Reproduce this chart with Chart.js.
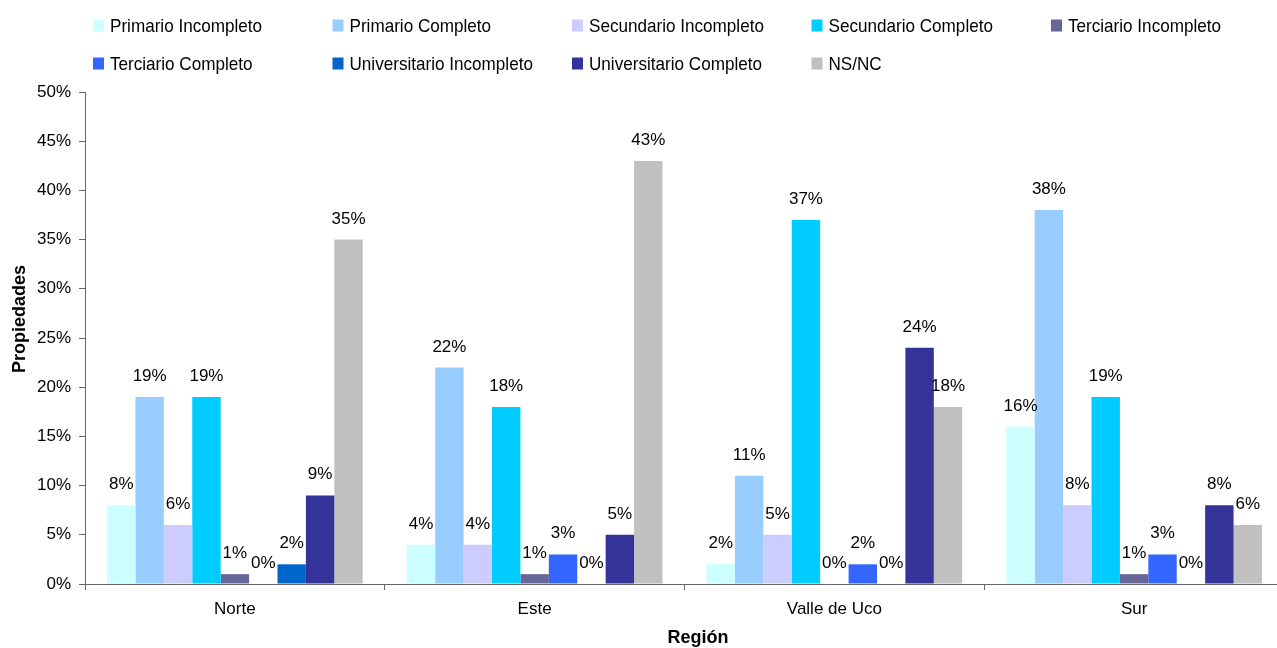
<!DOCTYPE html>
<html>
<head>
<meta charset="utf-8">
<script src="https://cdn.jsdelivr.net/npm/chart.js@4.4.1/dist/chart.umd.min.js"></script>
<style>
  html, body { margin: 0; padding: 0; background: #fff; overflow: hidden; }
  #wrap { width: 1277px; height: 648px; overflow: hidden; }
  canvas { display: block; }
</style>
</head>
<body>
<div id="wrap"><canvas id="nivelChart" width="1285" height="648"></canvas></div>
<script>
const regiones = ['Norte', 'Este', 'Valle de Uco', 'Sur'];

const niveles = [
    'Primario Incompleto', 'Primario Completo', 'Secundario Incompleto',
    'Secundario Completo', 'Terciario Incompleto', 'Terciario Completo',
    'Universitario Incompleto', 'Universitario Completo', 'NS/NC'
];

// porcentaje por region (Norte, Este, Valle de Uco, Sur)
const primarioIncompleto = [8, 4, 2, 16];
const primarioCompleto = [19, 22, 11, 38];
const secundarioIncompleto = [6, 4, 5, 8];
const secundarioCompleto = [19, 18, 37, 19];
const terciarioIncompleto = [1, 1, 0, 1];
const terciarioCompleto = [0, 3, 2, 3];
const universitarioIncompleto = [2, 0, 0, 0];
const universitarioCompleto = [9, 5, 24, 8];
const nsnc = [35, 43, 18, 6];

const colores = ['#CCFFFF', '#99CCFF', '#CCCCFF', '#00CCFF', '#666699',
                 '#3366FF', '#0066CC', '#333399', '#C0C0C0'];

const series = [primarioIncompleto, primarioCompleto, secundarioIncompleto,
    secundarioCompleto, terciarioIncompleto, terciarioCompleto,
    universitarioIncompleto, universitarioCompleto, nsnc];

const FONT = 'Arial, "Liberation Sans", sans-serif';
const AXIS = '#666666';

// leyenda en dos filas, cinco columnas iguales
const leyenda = {
    id: 'leyenda',
    afterDraw(chart) {
        const ctx = chart.ctx;
        const x0 = 93, colW = 239.5;
        const rows = [25.5, 63.5];
        ctx.save();
        ctx.textBaseline = 'middle';
        ctx.textAlign = 'left';
        chart.data.datasets.forEach((ds, i) => {
            const x = x0 + (i % 5) * colW;
            const y = rows[Math.floor(i / 5)];
            ctx.fillStyle = ds.backgroundColor;
            ctx.fillRect(x, y - 6, 11, 12);
            // texto algo angosto, como en el grafico original
            ctx.save();
            ctx.translate(x + 17, y + 1);
            ctx.scale(0.9, 1);
            ctx.font = '19px ' + FONT;
            ctx.fillStyle = '#000';
            ctx.fillText(ds.label, 0, 0);
            ctx.restore();
        });
        ctx.restore();
    }
};

// titulos de los ejes
const titulos = {
    id: 'titulos',
    afterDraw(chart) {
        const ctx = chart.ctx;
        ctx.save();
        ctx.fillStyle = '#000';
        ctx.textAlign = 'center';
        ctx.textBaseline = 'middle';
        ctx.font = 'bold 18px ' + FONT;
        ctx.fillText('Región', 698, 638);
        ctx.translate(20, 319);
        ctx.rotate(-Math.PI / 2);
        ctx.fillText('Propiedades', 0, 0);
        ctx.restore();
    }
};

// valor sobre cada barra
const etiquetas = {
    id: 'etiquetas',
    afterDatasetsDraw(chart) {
        const ctx = chart.ctx;
        ctx.save();
        ctx.font = '17px ' + FONT;
        ctx.fillStyle = '#000';
        ctx.textAlign = 'center';
        ctx.textBaseline = 'alphabetic';
        chart.data.datasets.forEach((ds, i) => {
            chart.getDatasetMeta(i).data.forEach((bar, j) => {
                ctx.fillText(ds.data[j] + '%', bar.x, bar.y - 16);
            });
        });
        ctx.restore();
    }
};

const ctx = document.getElementById('nivelChart').getContext('2d');
new Chart(ctx, {
    type: 'bar',
    data: {
        labels: regiones,
        datasets: niveles.map((n, i) => ({
            label: n,
            data: series[i],
            backgroundColor: colores[i],
            borderWidth: 0,
            categoryPercentage: 0.853,
            barPercentage: 1
        }))
    },
    options: {
        responsive: false,
        animation: false,
        layout: { padding: { top: 92, right: 1, left: 0, bottom: 0 } },
        plugins: {
            legend: { display: false },
            tooltip: { enabled: false }
        },
        scales: {
            x: {
                grid: { display: true, drawOnChartArea: false, offset: true, tickLength: 6, color: AXIS },
                border: { color: AXIS, width: 1 },
                ticks: { font: { family: FONT, size: 17 }, color: '#000', padding: 9 },
                afterFit(scale) { scale.height = 64; }
            },
            y: {
                min: 0,
                max: 50,
                grid: { display: true, drawOnChartArea: false, tickLength: 6, color: AXIS },
                border: { color: AXIS, width: 1 },
                ticks: {
                    stepSize: 5,
                    font: { family: FONT, size: 17 },
                    color: '#000',
                    padding: 8,
                    callback: v => v + '%'
                },
                afterFit(scale) { scale.width = 85; }
            }
        }
    },
    plugins: [leyenda, titulos, etiquetas]
});
</script>
</body>
</html>
